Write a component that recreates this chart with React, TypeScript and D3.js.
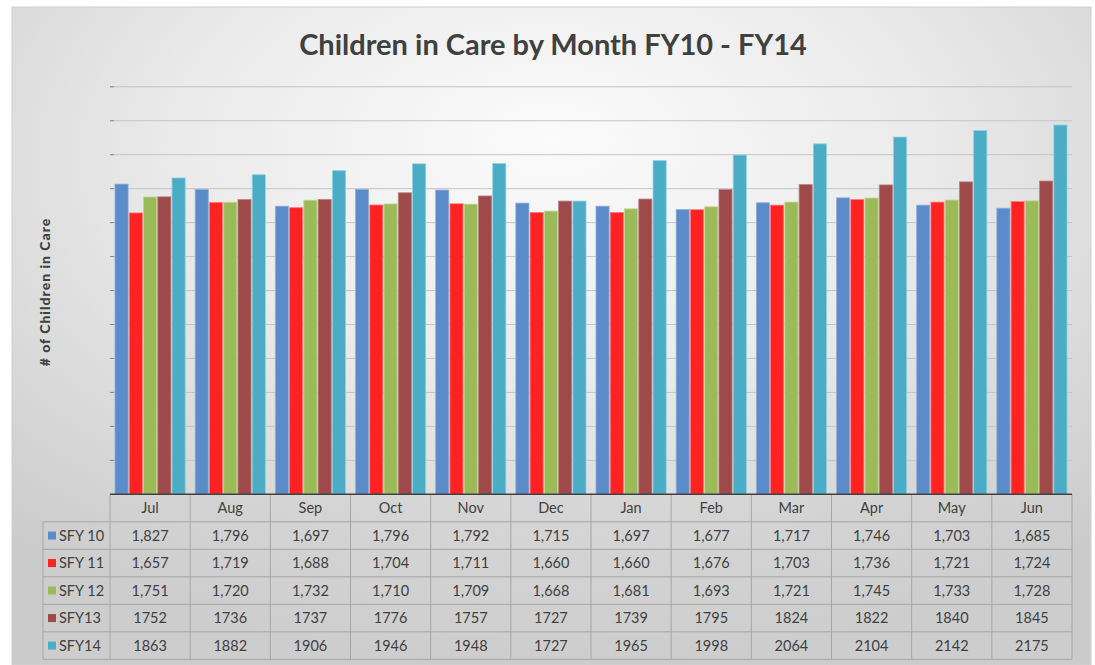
import React from "react";
import * as d3 from "d3";

const months = ["Jul", "Aug", "Sep", "Oct", "Nov", "Dec", "Jan", "Feb", "Mar", "Apr", "May", "Jun"];
const seriesNames = ["SFY 10", "SFY 11", "SFY 12", "SFY13", "SFY14"];
const sfy10 = [1827, 1796, 1697, 1796, 1792, 1715, 1697, 1677, 1717, 1746, 1703, 1685];
const sfy11 = [1657, 1719, 1688, 1704, 1711, 1660, 1660, 1676, 1703, 1736, 1721, 1724];
const sfy12 = [1751, 1720, 1732, 1710, 1709, 1668, 1681, 1693, 1721, 1745, 1733, 1728];
const sfy13 = [1752, 1736, 1737, 1776, 1757, 1727, 1739, 1795, 1824, 1822, 1840, 1845];
const sfy14 = [1863, 1882, 1906, 1946, 1948, 1727, 1965, 1998, 2064, 2104, 2142, 2175];
const yTicks = [0, 200, 400, 600, 800, 1000, 1200, 1400, 1600, 1800, 2000, 2200, 2400];

const values = [sfy10, sfy11, sfy12, sfy13, sfy14];
const colors = ["#5b8bc9", "#ff2222", "#9bbb59", "#9e4a4a", "#4bacc6"];
const strokes = ["#8fb0dc", "#ff7a7a", "#c0d690", "#c08080", "#8fd0e0"];
// first three series show thousand separators in the table, the rest do not
const fmt = [d3.format(","), d3.format(","), d3.format(","), d3.format("d"), d3.format("d")];

const W = 1095;
const H = 665;
const left = 110;
const right = 1072;
const top = 86.8;
const base = 494.3;
const rowH = 27.5;
const tableLeft = 43;
const font = "Lato, 'Open Sans', sans-serif";

const App = () => {
  const x = d3.scaleBand().domain(months).range([left, right]).padding(0);
  const xi = d3
    .scaleBand()
    .domain(seriesNames)
    .range([0, x.bandwidth()])
    .paddingInner(0.08)
    .paddingOuter(0.35);
  const y = d3.scaleLinear().domain([0, 2400]).range([base, top]);

  return (
    <svg width={W} height={H} style={{ position: "absolute", left: 0, top: 0 }}>
      <defs>
        <radialGradient id="bg" cx="50%" cy="25%" r="75%" fx="50%" fy="20%">
          <stop offset="0%" stopColor="#fbfbfb" />
          <stop offset="45%" stopColor="#ebebeb" />
          <stop offset="100%" stopColor="#cbcbcb" />
        </radialGradient>
      </defs>
      <rect width={W} height={H} fill="#fff" />
      <rect x={12} y={7} width={1079} height={H - 7} fill="url(#bg)" stroke="#d0d0d0" />

      <text
        x={553}
        y={55}
        textAnchor="middle"
        fontFamily={font}
        fontWeight="bold"
        fontSize={29}
        fill="#404040"
      >
        Children in Care by Month FY10 - FY14
      </text>

      <text
        transform={`translate(50 ${292}) rotate(-90)`}
        textAnchor="middle"
        fontFamily={font}
        fontWeight="900"
        fontSize={14}
        letterSpacing={1}
        fill="#404040"
      >
        # of Children in Care
      </text>

      {yTicks.slice(1).map(t => (
        <g key={t}>
          <line x1={left} x2={right} y1={y(t)} y2={y(t)} stroke="#c4c4c4" strokeWidth={1} />
          <line x1={left} x2={left + 4} y1={y(t)} y2={y(t)} stroke="#888" strokeWidth={1} />
        </g>
      ))}

      {months.map((m, i) => (
        <g key={m} transform={`translate(${x(m)} 0)`}>
          {seriesNames.map((s, k) => (
            <rect
              key={s}
              x={xi(s)}
              y={y(values[k][i])}
              width={xi.bandwidth()}
              height={base - y(values[k][i])}
              fill={colors[k]}
              stroke={strokes[k]}
              strokeWidth={0.8}
            />
          ))}
        </g>
      ))}

      {/* data table */}
      <g fontFamily={font} fontSize={14.5} fill="#404040">
        <rect
          x={tableLeft}
          y={base + rowH}
          width={right - tableLeft}
          height={rowH * 5}
          fill="#d0d0d0"
          fillOpacity={0.5}
        />
        <rect x={left} y={base} width={right - left} height={rowH} fill="#d0d0d0" fillOpacity={0.5} />
        {months.map(m => (
          <line key={m} x1={x(m)} x2={x(m)} y1={base} y2={base + rowH * 6} stroke="#a6a6a6" />
        ))}
        <line x1={right} x2={right} y1={base} y2={base + rowH * 6} stroke="#a6a6a6" />
        <line x1={tableLeft} x2={tableLeft} y1={base + rowH} y2={base + rowH * 6} stroke="#a6a6a6" />
        {d3.range(1, 7).map(r => (
          <line
            key={r}
            x1={tableLeft}
            x2={right}
            y1={base + rowH * r}
            y2={base + rowH * r}
            stroke="#a6a6a6"
          />
        ))}
        <line x1={left} x2={right} y1={base} y2={base} stroke="#404040" strokeWidth={1.5} />
        {months.map(m => (
          <text key={m} x={x(m)! + x.bandwidth() / 2} y={base + rowH / 2 + 5} textAnchor="middle">
            {m}
          </text>
        ))}
        {seriesNames.map((s, k) => (
          <g key={s}>
            <rect x={48} y={base + rowH * (k + 1) + rowH / 2 - 4} width={8} height={8} fill={colors[k]} />
            <text x={59} y={base + rowH * (k + 1) + rowH / 2 + 5}>
              {s}
            </text>
            {months.map((m, i) => (
              <text
                key={m}
                x={x(m)! + x.bandwidth() / 2}
                y={base + rowH * (k + 1) + rowH / 2 + 5}
                textAnchor="middle"
              >
                {fmt[k](values[k][i])}
              </text>
            ))}
          </g>
        ))}
      </g>
    </svg>
  );
};

export default App;
